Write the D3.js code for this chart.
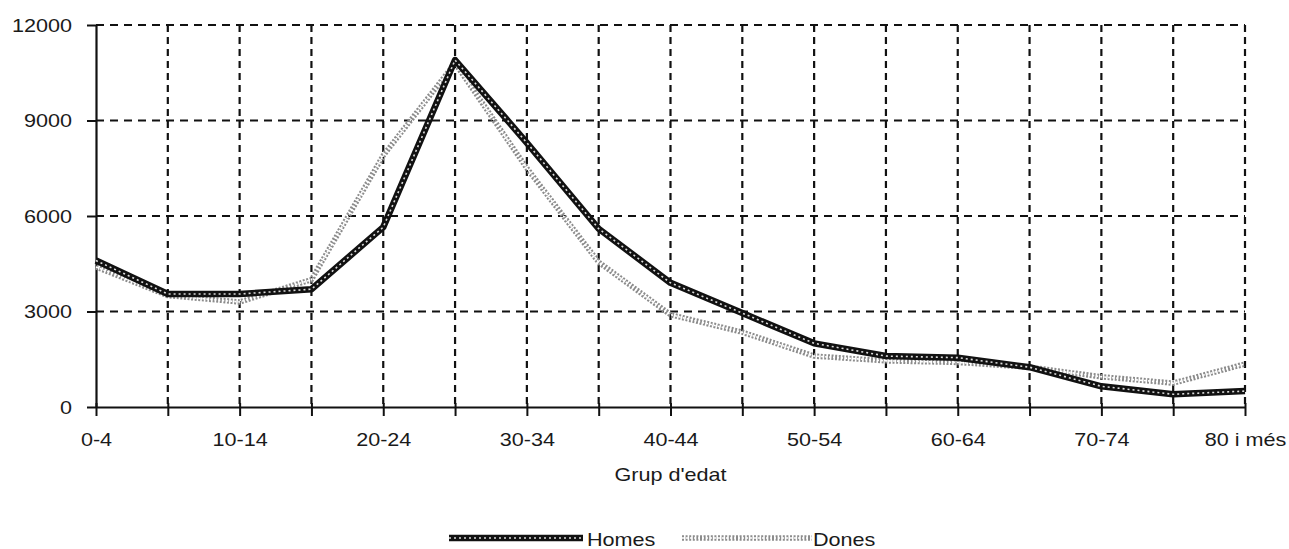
<!DOCTYPE html>
<html>
<head>
<meta charset="utf-8">
<script src="https://cdn.jsdelivr.net/npm/d3@7"></script>
<style>
  html, body { margin: 0; padding: 0; background: #ffffff; }
  svg { display: block; }
  text { font-family: "Liberation Sans", Arial, Helvetica, sans-serif; fill: #1a1a1a; }
</style>
</head>
<body>
<svg id="chart" width="1289" height="549"></svg>
<script>
const categories = ["0-4","5-9","10-14","15-19","20-24","25-29","30-34","35-39","40-44","45-49","50-54","55-59","60-64","65-69","70-74","75-79","80 i més"];
const homes = [4600,3550,3550,3700,5650,10900,8300,5600,3900,2950,2000,1600,1550,1250,650,400,500];
const dones = [4400,3500,3300,4000,7900,10800,7500,4550,2900,2350,1600,1450,1400,1250,950,750,1350];
const yTicks = [0,3000,6000,9000,12000];
const xLabelEvery = 2;
const xTitle = "Grup d'edat";
const seriesNames = ["Homes","Dones"];

const svg = d3.select("#chart");
const mLeft = 96, mRight = 1245, mTop = 25, mBottom = 407;

const x = d3.scalePoint().domain(categories).range([mLeft, mRight]);
const y = d3.scaleLinear().domain([0, 12000]).range([mBottom, mTop]);

// Grid
const grid = svg.append("g");
grid.selectAll("line.h").data(yTicks.filter(d => d > 0)).join("line")
  .attr("x1", mLeft).attr("x2", mRight)
  .attr("y1", d => y(d)).attr("y2", d => y(d))
  .attr("stroke", "#111").attr("stroke-width", 2.2)
  .attr("stroke-dasharray", "8,6");
grid.selectAll("line.v").data(categories.slice(1)).join("line")
  .attr("x1", d => x(d)).attr("x2", d => x(d))
  .attr("y1", mTop).attr("y2", mBottom)
  .attr("stroke", "#111").attr("stroke-width", 2.2)
  .attr("stroke-dasharray", "7,5");

// Axes
const xAxis = svg.append("g").attr("transform", `translate(0,${mBottom})`)
  .call(d3.axisBottom(x).tickSizeInner(9).tickSizeOuter(0)
    .tickFormat((d, i) => i % xLabelEvery === 0 ? d : ""));
xAxis.select(".domain").attr("stroke", "#111").attr("stroke-width", 2.2);
xAxis.selectAll(".tick line").attr("stroke", "#111").attr("stroke-width", 2).attr("y1", -4);
xAxis.selectAll(".tick text")
  .attr("y", 39).attr("dy", 0)
  .attr("transform", "scale(1.2,1)")
  .style("font-size", "18px").attr("fill", "#1a1a1a");

const yAxis = svg.append("g").attr("transform", `translate(${mLeft},0)`)
  .call(d3.axisLeft(y).tickValues(yTicks).tickSizeInner(9).tickSizeOuter(0).tickFormat(d3.format("d")));
yAxis.select(".domain").attr("stroke", "#111").attr("stroke-width", 2.2);
yAxis.selectAll(".tick line").attr("stroke", "#111").attr("stroke-width", 2);
yAxis.selectAll(".tick text")
  .attr("x", -20).attr("dy", "0.35em")
  .attr("transform", "scale(1.2,1)")
  .style("font-size", "18px").attr("fill", "#1a1a1a");

// Axis title
svg.append("text")
  .attr("transform", `translate(${(mLeft + mRight) / 2},481) scale(1.2,1)`)
  .attr("text-anchor", "middle")
  .style("font-size", "18px")
  .text(xTitle);

// Lines
const line = d3.line().x((d, i) => x(categories[i])).y(d => y(d));

function drawDones(g, pathD) {
  g.append("path").attr("d", pathD).attr("fill", "none")
    .attr("stroke", "#8c8c8c").attr("stroke-width", 5.5)
    .attr("stroke-dasharray", "2,1.6").attr("stroke-linejoin", "round");
  g.append("path").attr("d", pathD).attr("fill", "none")
    .attr("stroke", "#ffffff").attr("stroke-width", 1.6)
    .attr("stroke-dasharray", "2,2").attr("stroke-linejoin", "round");
}
function drawHomes(g, pathD) {
  g.append("path").attr("d", pathD).attr("fill", "none")
    .attr("stroke", "#111").attr("stroke-width", 6.5)
    .attr("stroke-linejoin", "round");
  g.append("path").attr("d", pathD).attr("fill", "none")
    .attr("stroke", "#dcdcdc").attr("stroke-width", 1.6)
    .attr("stroke-dasharray", "2,3").attr("stroke-linejoin", "round");
}

drawDones(svg.append("g"), line(dones));
drawHomes(svg.append("g"), line(homes));

// Legend
const leg = svg.append("g");
const lh = d3.line()([[449, 538], [583, 538]]);
drawHomes(leg.append("g"), lh);
leg.append("text").attr("transform", "translate(587,546) scale(1.2,1)")
  .style("font-size", "18px").text(seriesNames[0]);
const ld = d3.line()([[682, 538], [812, 538]]);
drawDones(leg.append("g"), ld);
leg.append("text").attr("transform", "translate(813,546) scale(1.2,1)")
  .style("font-size", "18px").text(seriesNames[1]);
</script>
</body>
</html>
